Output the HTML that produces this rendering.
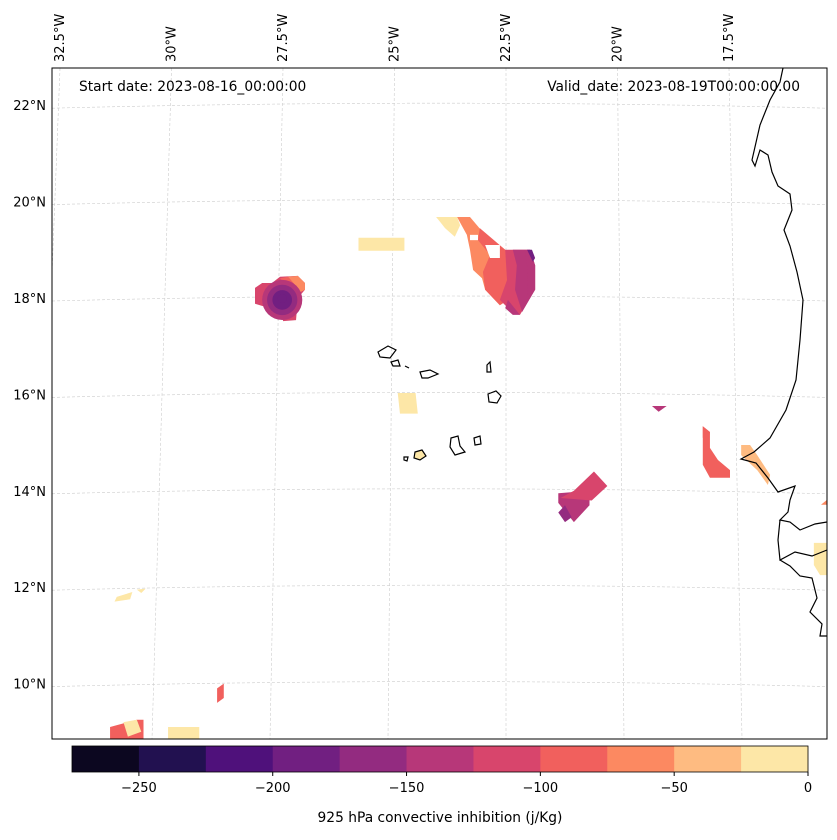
<!DOCTYPE html>
<html><head><meta charset="utf-8"><style>
body{margin:0;background:#fff;font-family:"DejaVu Sans",sans-serif}
svg text{font-family:"DejaVu Sans","Liberation Sans",sans-serif;font-size:13px;fill:#000}
svg text.big{font-size:13.8px}
</style></head><body>
<svg id="c" width="837" height="836">
<rect x="0" y="0" width="837" height="836" fill="#fff"/>
<g id="grid"></g>
<g id="marks"></g>
<path fill="none" stroke="#000" stroke-width="1.2"
 d="M783,68 L780,82 L770,100 L760,125 L752,160 L755,166 L760,150 L768,155 L772,172 L778,186 L790,194 L792,210 L784,230 L790,246 L797,272 L803,300 L800,340 L796,380 L786,410 L770,438 L754,452 L741,459 L756,463 L768,478 L778,492 L795,486 L790,500 L788,512 L780,520 L790,522 L800,530 L815,524 L827,522 M780,520 L778,540 L780,560 L795,552 L812,556 L827,550 M780,560 L790,566 L800,576 L812,578 L817,598 L810,612 L822,624 L820,636 L827,636"/>
<g fill="none" stroke="#000" stroke-width="1.2">
<path d="M378,352 L388,346 L396,350 L390,358 L380,357 Z"/><path d="M391,362 L398,360 L400,366 L393,366 Z"/>
<path d="M405,366 L409,368"/><path d="M420,372 L430,370 L438,374 L428,378 L422,378 Z"/>
<path d="M487,365 L490,362 L491,372 L487,372 Z"/><path d="M488,394 L496,391 L501,396 L497,403 L489,402 Z"/>
<path d="M451,438 L458,436 L460,446 L465,452 L455,455 L450,447 Z"/><path d="M474,438 L480,436 L481,444 L475,445 Z"/>
<path d="M415,452 L422,450 L426,456 L420,460 L414,458 Z" fill="#fde7a7"/><path d="M404,457 L408,457 L407,461 L404,460 Z"/>
</g>
<rect x="52" y="68" width="775" height="671" fill="none" stroke="#000" stroke-width="1"/>
<text class="big" x="79" y="91">Start date: 2023-08-16_00:00:00</text>
<text class="big" x="800" y="91" text-anchor="end">Valid_date: 2023-08-19T00:00:00.00</text>
<g id="labels"></g>
<g id="cbar"></g>
<text class="big" x="440" y="822" text-anchor="middle">925 hPa convective inhibition (j/Kg)</text>
</svg>
<script>
const levels=[-275,-250,-225,-200,-175,-150,-125,-100,-75,-50,-25,0];
const colors=["#0c0720","#221150","#4f117b","#711f81","#932b80","#b73779","#d8456c","#f1605d","#fc8961","#febb81","#fde7a7"];
const lonTicks=[-32.5,-30,-27.5,-25,-22.5,-20,-17.5];
const latTicks=[22,20,18,16,14,12,10];
// patches: value + [lon,lat] vertices
const polyValues=[-10,-60,-15,-90,-110,-130,-150,-180,-140,0,0,
-120,-100,-70,
-140,-155,-110,-10,
-80,-95,-40,-10,-60,
-10,-10,-90,-90,-15,-10,-140];
const polyCoords=[
[[-25.83,19.25],[-24.8,19.25],[-24.8,18.98],[-25.83,18.98]],
[[-23.62,19.68],[-23.33,19.68],[-22.99,19.31],[-22.54,19.0],[-22.48,17.96],[-22.66,17.85],[-22.99,18.17],[-23.06,18.41],[-23.26,18.58],[-23.33,19.0],[-23.40,19.31]],
[[-24.09,19.68],[-23.62,19.68],[-23.55,19.51],[-23.67,19.27],[-23.89,19.45],[-24.0,19.58]],
[[-23.11,19.45],[-22.54,19.0],[-22.43,18.89],[-22.48,17.96],[-22.66,17.85],[-22.99,18.17],[-23.04,18.54],[-22.88,18.89],[-23.15,19.2]],
[[-22.54,19.0],[-21.98,19.0],[-21.87,18.68],[-21.87,18.17],[-22.21,17.65],[-22.43,17.75],[-22.66,17.96],[-22.50,18.37]],
[[-22.37,19.0],[-21.98,19.0],[-21.87,18.68],[-21.87,18.17],[-22.16,17.71],[-22.32,18.17],[-22.28,18.68]],
[[-22.10,19.0],[-21.87,18.68],[-21.87,18.17],[-22.03,18.06],[-22.05,18.68]],
[[-22.05,19.0],[-21.94,19.0],[-21.87,18.83],[-21.92,18.75]],
[[-22.48,17.96],[-22.21,17.65],[-22.37,17.65],[-22.54,17.79]],
[[-23.33,19.31],[-23.15,19.31],[-23.15,19.2],[-23.33,19.2]],
[[-22.99,19.10],[-22.66,19.10],[-22.66,18.83],[-22.88,18.83]],
[[-28.15,18.21],[-27.99,18.31],[-27.77,18.31],[-27.59,18.44],[-27.19,18.46],[-27.03,18.31],[-27.03,18.17],[-27.19,18.0],[-27.23,17.54],[-27.52,17.52],[-27.57,17.75],[-27.90,17.81],[-28.15,17.88]],
[[-27.59,18.41],[-27.41,18.44],[-27.25,18.27],[-27.14,18.12],[-27.19,18.0],[-27.32,18.17]],
[[-27.41,18.44],[-27.19,18.46],[-27.03,18.31],[-27.03,18.17],[-27.14,18.12],[-27.25,18.27]],
[[-21.35,13.75],[-21.0,13.35],[-20.65,13.70],[-20.65,14.0],[-21.35,13.95]],
[[-21.35,13.55],[-21.2,13.35],[-21.05,13.45],[-21.2,13.7]],
[[-21.0,14.0],[-20.55,14.4],[-20.25,14.1],[-20.6,13.8],[-21.3,13.85]],
[[-24.95,16.03],[-24.55,16.03],[-24.5,15.6],[-24.9,15.6]],
[[-18.11,15.34],[-17.95,15.22],[-17.95,14.89],[-17.77,14.64],[-17.50,14.43],[-17.50,14.27],[-17.95,14.27],[-18.11,14.54]],
[[-18.11,15.34],[-17.95,15.22],[-17.98,15.05],[-18.11,15.1]],
[[-17.25,14.95],[-17.05,14.95],[-16.89,14.74],[-16.60,14.33],[-16.65,14.12],[-16.89,14.43],[-17.25,14.74]],
[[-15.62,12.92],[-15.33,12.92],[-15.33,12.25],[-15.48,12.25],[-15.62,12.46]],
[[-15.46,13.71],[-15.33,13.81],[-15.33,13.71]],
[[-31.25,11.8],[-30.9,11.9],[-30.95,11.75],[-31.3,11.7]],
[[-30.8,11.95],[-30.6,11.97],[-30.7,11.88]],
[[-29.0,9.9],[-28.85,10.0],[-28.85,9.7],[-29.0,9.6]],
[[-31.4,9.1],[-30.8,9.25],[-30.65,9.25],[-30.65,8.85],[-31.4,8.85]],
[[-31.1,9.2],[-30.8,9.25],[-30.7,9.0],[-31.0,8.9]],
[[-30.1,9.1],[-29.4,9.1],[-29.4,8.85],[-30.1,8.85]],
[[-19.25,15.76],[-18.92,15.76],[-19.1,15.64]]
];
const circles=[[-27.54,17.96,0.45,-140],[-27.54,17.96,0.34,-160],[-27.54,17.96,0.22,-180],[-27.54,17.99,0.1,-200]];
const NS="http://www.w3.org/2000/svg";
function X(lon){return 507+(lon+22.5)*44.6;}
function Y(lat){return 298-(lat-18)*48.2;}
function col(v){if(v===0)return '#ffffff';for(let i=0;i<levels.length-1;i++){if(v>=levels[i]&&v<levels[i+1])return colors[i];}return colors[colors.length-1];}
function mk(t,a,p){const e=document.createElementNS(NS,t);for(const k in a)e.setAttribute(k,a[k]);p.appendChild(e);return e;}
const g=document.getElementById('grid'),m=document.getElementById('marks'),lb=document.getElementById('labels'),cb=document.getElementById('cbar');
const clip=mk('clipPath',{id:'mapclip'},document.getElementById('c'));mk('rect',{x:52,y:68,width:775,height:671},clip);
m.setAttribute('clip-path','url(#mapclip)');
g.setAttribute('clip-path','url(#mapclip)');
lonTicks.forEach(lon=>{const xt=X(lon)-1,xb=xt+(lon+22.5)*2.6;
const l=mk('line',{x1:xt,y1:68,x2:xb,y2:739,stroke:'#ccc','stroke-width':0.6,'stroke-dasharray':'3,2'},g);

const t=mk('text',{transform:`translate(${xt+4},62) rotate(-90)`},lb);t.textContent=(-lon)+'°W';
});
latTicks.forEach(lat=>{const y=Y(lat);
const l=mk('path',{d:`M52,${y+3} Q440,${y-7} 827,${y+3}`,fill:'none',stroke:'#ccc','stroke-width':0.6,'stroke-dasharray':'3,2'},g);

const t=mk('text',{x:46,y:y+5,'text-anchor':'end'},lb);t.textContent=lat+'°N';
});
polyCoords.forEach((pts,i)=>{const p=mk('polygon',{points:pts.map(q=>X(q[0])+','+Y(q[1])).join(' '),fill:col(polyValues[i])},m);
});
circles.forEach(c=>{const e=mk('circle',{cx:X(c[0]),cy:Y(c[1]),r:c[2]*44.6,fill:col(c[3])},m);
});
const cx0=72,cw=736,cmin=-275,cmax=0;function CX(v){return cx0+(v-cmin)/(cmax-cmin)*cw;}
for(let i=0;i<colors.length;i++){const r=mk('rect',{x:CX(levels[i]),y:746,width:CX(levels[i+1])-CX(levels[i])+0.5,height:26,fill:colors[i]},cb);
}
mk('rect',{x:72,y:746,width:736,height:26,fill:'none',stroke:'#000','stroke-width':0.8},cb);
[-250,-200,-150,-100,-50,0].forEach(v=>{mk('line',{x1:CX(v),y1:772,x2:CX(v),y2:776,stroke:'#000'},cb);
const t=mk('text',{x:CX(v),y:792,'text-anchor':'middle'},cb);t.textContent=(v<0?'−'+(-v):v);
});
</script>
</body></html>
